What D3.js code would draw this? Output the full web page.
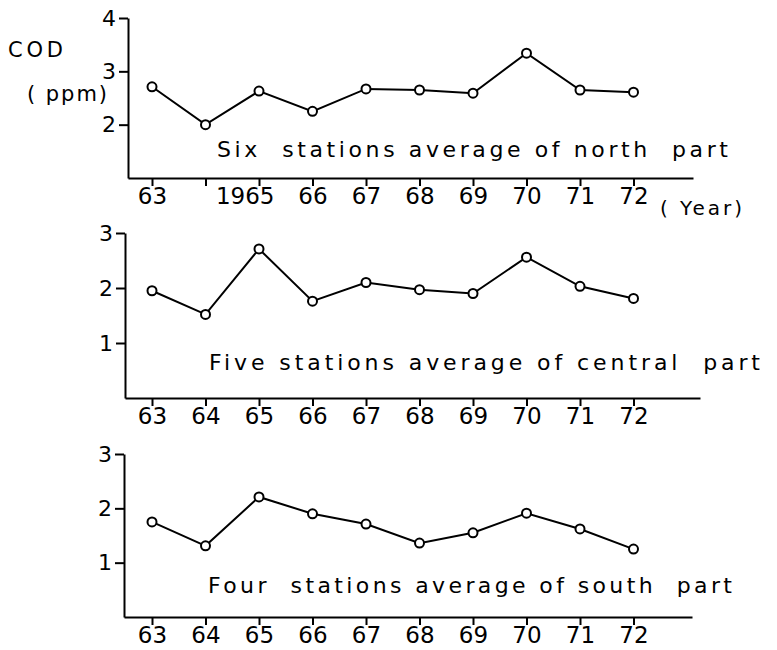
<!DOCTYPE html>
<html>
<head>
<meta charset="utf-8">
<script src="https://cdn.jsdelivr.net/npm/d3@7"></script>
<style>
  body { margin: 0; background: #fff; }
  svg { display: block; }
  .axis path, .axis line { stroke: #000; stroke-width: 2; }
  .axis text { font-family: "DejaVu Sans", sans-serif; fill: #000; }
  .lbl { font-family: "DejaVu Sans", sans-serif; fill: #000; }
</style>
</head>
<body>
<svg width="777" height="650"></svg>
<script>
// data (COD, ppm)
const years = [63, 64, 65, 66, 67, 68, 69, 70, 71, 72];
const north = [2.71, 2.0, 2.63, 2.25, 2.67, 2.65, 2.59, 3.34, 2.65, 2.61];
const central = [1.95, 1.52, 2.71, 1.76, 2.1, 1.97, 1.9, 2.56, 2.03, 1.81];
const south = [1.75, 1.31, 2.21, 1.9, 1.71, 1.36, 1.55, 1.91, 1.62, 1.25];
const northTicks = [2, 3, 4];
const lowerTicks = [1, 2, 3];
const captions = [
  'Six  stations average of north  part',
  'Five stations average of central  part',
  'Four  stations average of south  part'
];

const svg = d3.select('svg');

const panels = [
  { values: north, domain: [1, 4], ticks: northTicks, top: 18, bottom: 178, left: 128, xEnd: 693,
    caption: captions[0], capX: 217, capY: 157, capW: 511 },
  { values: central, domain: [0, 3], ticks: lowerTicks, top: 233, bottom: 398, left: 125, xEnd: 700,
    caption: captions[1], capX: 209, capY: 370, capW: 551 },
  { values: south, domain: [0, 3], ticks: lowerTicks, top: 454, bottom: 617, left: 124, xEnd: 692,
    caption: captions[2], capX: 208, capY: 593, capW: 524 }
];

panels.forEach(function(p, i) {
  // x scale: 63 sits at ~152px, 53.5px per year
  const x = d3.scaleLinear()
    .domain([63 - (152 - p.left) / 53.5, 63 + (p.xEnd - 152) / 53.5])
    .range([p.left, p.xEnd]);

  const y = d3.scaleLinear()
    .domain(p.domain)
    .range([p.bottom, p.top]);

  const g = svg.append('g');

  const xAxis = d3.axisBottom(x)
    .tickValues(years)
    .tickSize(8)
    .tickSizeOuter(0)
    .tickPadding(2)
    .tickFormat(function(d) {
      if (i === 0 && d === 64) return '';
      return d;
    });

  const gx = g.append('g')
    .attr('class', 'axis')
    .attr('transform', `translate(0,${p.bottom})`)
    .call(xAxis);
  gx.selectAll('text').style('font-size', '23px');

  if (i === 0) {
    // "1965" label: the 65 stays centred on its tick
    gx.selectAll('.tick')
      .filter(function(d) { return d === 65; })
      .select('text')
      .text('1965')
      .attr('text-anchor', 'end')
      .attr('x', 15);
  }

  const yAxis = d3.axisLeft(y)
    .tickValues(p.ticks)
    .tickSize(9)
    .tickSizeOuter(0)
    .tickPadding(3)
    .tickFormat(d3.format('d'));

  const gy = g.append('g')
    .attr('class', 'axis')
    .attr('transform', `translate(${p.left},0)`)
    .call(yAxis);
  gy.selectAll('text').style('font-size', '22px');

  const line = d3.line()
    .x(function(d, j) { return x(years[j]); })
    .y(function(d) { return y(d); });

  g.append('path')
    .datum(p.values)
    .attr('d', line)
    .attr('fill', 'none')
    .attr('stroke', '#000')
    .attr('stroke-width', 2);

  g.selectAll('circle')
    .data(p.values)
    .enter().append('circle')
    .attr('cx', function(d, j) { return x(years[j]); })
    .attr('cy', function(d) { return y(d); })
    .attr('r', 4.5)
    .attr('fill', '#fff')
    .attr('stroke', '#000')
    .attr('stroke-width', 2);

  g.append('text')
    .attr('class', 'lbl')
    .attr('x', p.capX)
    .attr('y', p.capY)
    .attr('textLength', p.capW)
    .attr('lengthAdjust', 'spacing')
    .style('font-size', '22px')
    .style('white-space', 'pre')
    .text(p.caption);
});

// axis titles
svg.append('text').attr('class', 'lbl')
  .attr('x', 8).attr('y', 57)
  .attr('textLength', 55).attr('lengthAdjust', 'spacing')
  .style('font-size', '21px')
  .text('COD');

svg.append('text').attr('class', 'lbl')
  .attr('x', 27).attr('y', 101)
  .attr('textLength', 80).attr('lengthAdjust', 'spacing')
  .style('font-size', '21px')
  .style('white-space', 'pre')
  .text('( ppm)');

svg.append('text').attr('class', 'lbl')
  .attr('x', 660).attr('y', 215)
  .attr('textLength', 82).attr('lengthAdjust', 'spacing')
  .style('font-size', '20px')
  .style('white-space', 'pre')
  .text('( Year)');
</script>
</body>
</html>
